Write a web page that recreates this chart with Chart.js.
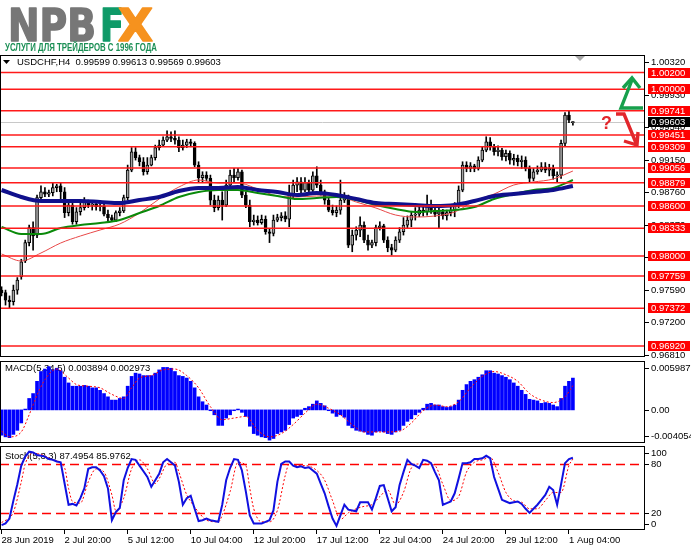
<!DOCTYPE html>
<html>
<head>
<meta charset="utf-8">
<script src="https://cdn.jsdelivr.net/npm/chart.js@4.4.1/dist/chart.umd.min.js"></script>
<style>
  body { margin: 0; background: #fff; width: 691px; height: 549px; overflow: hidden; position: relative; }
  canvas { position: absolute; left: 0; top: 0; }
</style>
</head>
<body>
<canvas id="main" width="691" height="549"></canvas>
<canvas id="macd" width="691" height="549"></canvas>
<canvas id="stoch" width="691" height="549"></canvas>
<script>
// ── USDCHF H4 with MAs, MACD and Stochastic ─────────────────────────────────
const FONT = 'Liberation Sans';

const open = [
  .9759,.9756,.9747,.9745,.9759,.9775,.9794,.9816,.9834,.9825,
  .9870,.9877,.9874,.9876,.9882,.9884,.9877,.9852,.9861,.9841,
  .9853,.9858,.9865,.9861,.9862,.9859,.9860,.9850,.9846,.9843,
  .9852,.9854,.9870,.9903,.9925,.9918,.9913,.9901,.9909,.9918,
  .9930,.9933,.9939,.9943,.9941,.9939,.9930,.9933,.9937,.9935,
  .9909,.9894,.9897,.9893,.9867,.9858,.9867,.9861,.9885,.9897,
  .9894,.9901,.9873,.9861,.9841,.9843,.9840,.9844,.9829,.9827,
  .9843,.9846,.9848,.9844,.9873,.9885,.9889,.9879,.9888,.9879,
  .9896,.9885,.9877,.9867,.9855,.9852,.9855,.9867,.9872,.9813,
  .9825,.9831,.9837,.9819,.9813,.9816,.9834,.9836,.9819,.9810,
  .9807,.9819,.9829,.9837,.9843,.9849,.9850,.9855,.9853,.9861,
  .9855,.9850,.9853,.9848,.9852,.9855,.9860,.9879,.9909,.9905,
  .9908,.9905,.9915,.9927,.9937,.9931,.9925,.9927,.9919,.9923,
  .9915,.9917,.9913,.9915,.9905,.9893,.9901,.9903,.9907,.9903,
  .9905,.9896,.9897,.9935,.9969,.99599
];
const high = [
  .9763,.9759,.9752,.9765,.9774,.9796,.9819,.9837,.9841,.9873,
  .9884,.9882,.9879,.9888,.9886,.9888,.9882,.9865,.9864,.9858,
  .9864,.9870,.9867,.9864,.9864,.9864,.9864,.9855,.9849,.9854,
  .9858,.9873,.9909,.9930,.9930,.9921,.9918,.9918,.9921,.9933,
  .9939,.9943,.9950,.9949,.9950,.9943,.9939,.9940,.9940,.9937,
  .9913,.9901,.9901,.9897,.9873,.9872,.9877,.9891,.9903,.9905,
  .9905,.9903,.9877,.9867,.9849,.9848,.9849,.9848,.9833,.9849,
  .9850,.9852,.9853,.9885,.9891,.9894,.9894,.9894,.9891,.9901,
  .9907,.9891,.9879,.9870,.9861,.9860,.9891,.9876,.9873,.9831,
  .9835,.9847,.9841,.9825,.9819,.9837,.9841,.9838,.9823,.9814,
  .9823,.9834,.9846,.9848,.9853,.9858,.9860,.9861,.9873,.9867,
  .9858,.9858,.9856,.9855,.9859,.9864,.9884,.9913,.9913,.9912,
  .9910,.9919,.9931,.9943,.9942,.9934,.9932,.9929,.9927,.9926,
  .9922,.9921,.9920,.9919,.9908,.9905,.9908,.9912,.9912,.9910,
  .9909,.9901,.9939,.9972,.99741,.99613
];
const low = [
  .9752,.9741,.97372,.9741,.9754,.9772,.9792,.9812,.9807,.9822,
  .9867,.9871,.9871,.9872,.9877,.9867,.9846,.9848,.9838,.9838,
  .9849,.9855,.9858,.9855,.9855,.9854,.9848,.9842,.9841,.9841,
  .9848,.9852,.9867,.9901,.9915,.9908,.9897,.9898,.9908,.9915,
  .9927,.9931,.9937,.9937,.9934,.9925,.9927,.9930,.9931,.9907,
  .9889,.9889,.9890,.9861,.9853,.9855,.9843,.9859,.9882,.9889,
  .9891,.9870,.9858,.9835,.9837,.9837,.9838,.9826,.9816,.9824,
  .9841,.9842,.9841,.9835,.9870,.9877,.9876,.9877,.9876,.9877,
  .9882,.9873,.9862,.9853,.9849,.9847,.9850,.9864,.9810,.9805,
  .9819,.9823,.9816,.9807,.9810,.9812,.9831,.9816,.9805,.9801,
  .9805,.9816,.9825,.9834,.9835,.9843,.9847,.9848,.9849,.9851,
  .9847,.9834,.9844,.9843,.9848,.9847,.9858,.9877,.9901,.9901,
  .9901,.9903,.9913,.9925,.9927,.9921,.9920,.9915,.9914,.9910,
  .9909,.9908,.9905,.9902,.9889,.9890,.9898,.9901,.9900,.9896,
  .9892,.98879,.9893,.9931,.9960,.99569
];
const close = [
  .9756,.9747,.9745,.9759,.9771,.9793,.9816,.9834,.9824,.9870,
  .9877,.9874,.9876,.9882,.9884,.9877,.9852,.9861,.9841,.9853,
  .9858,.9865,.9861,.9862,.9859,.9860,.9850,.9846,.9843,.9852,
  .9854,.9870,.9903,.9925,.9918,.9913,.9901,.9909,.9918,.9930,
  .9933,.9939,.9943,.9941,.9939,.9930,.9933,.9937,.9935,.9909,
  .9894,.9897,.9893,.9867,.9858,.9867,.9861,.9885,.9897,.9894,
  .9901,.9873,.9861,.9841,.9843,.9840,.9844,.9829,.9827,.9843,
  .9846,.9848,.9844,.9873,.9885,.9889,.9879,.9888,.9879,.9896,
  .9885,.9877,.9867,.9855,.9852,.9855,.9867,.9872,.9813,.9825,
  .9831,.9837,.9819,.9813,.9816,.9834,.9836,.9819,.9810,.9807,
  .9819,.9829,.9837,.9843,.9849,.9850,.9855,.9853,.9861,.9855,
  .9850,.9853,.9848,.9852,.9855,.9860,.9879,.9909,.9905,.9908,
  .9905,.9915,.9927,.9937,.9931,.9925,.9927,.9919,.9923,.9915,
  .9917,.9913,.9915,.9905,.9893,.9901,.9903,.9907,.9903,.9905,
  .9896,.9897,.9935,.9969,.9963,.99603
];

// moving averages, read every 5 bars
const maIdx   = [0,5,10,15,20,25,30,35,40,45,50,55,60,65,70,75,80,85,90,95,100,105,110,115,120,125,130,135,140,145];
const maRed   = [.98023,.97939,.98035,.98155,.98239,.98311,.98383,.98515,.98683,.98827,.98911,.98875,.98875,.98803,.98719,.98707,.98719,.98719,.98647,.98575,.98491,.98467,.98479,.98527,.98659,.98743,.98851,.98887,.98923,.99019];
const maGreen = [.98347,.98263,.98263,.98335,.98371,.98395,.98431,.98515,.98599,.98707,.98767,.98791,.98791,.98755,.98719,.98683,.98695,.98707,.98671,.98611,.98563,.98527,.98539,.98551,.98587,.98683,.98743,.98791,.98815,.98911];
const maBlue  = [.98791,.98707,.98659,.98659,.98659,.98647,.98635,.98671,.98707,.98779,.98815,.98815,.98827,.98791,.98767,.98731,.98755,.98731,.98683,.98635,.98623,.98611,.98599,.98611,.98659,.98719,.98743,.98767,.98791,.98839];

const levels     = [1.00200, 1.00000, 0.99741, 0.99451, 0.99309, 0.99056, 0.98879, 0.98600, 0.98333, 0.98000, 0.97759, 0.97372, 0.96920];
const lastPrice  = 0.99603;
const priceTicks = [1.00320, 0.99930, 0.99540, 0.99150, 0.98760, 0.98370, 0.97980, 0.97590, 0.97200, 0.96810];

const macdHist = [
  -0.0031,-0.0033,-0.0034,-0.0030,-0.0025,-0.0016,0.0001,0.0014,0.0020,0.0035,
  0.0047,0.0050,0.0053,0.0049,0.0051,0.0048,0.0040,0.0033,0.0029,0.0029,
  0.0029,0.0030,0.0029,0.0027,0.0027,0.0024,0.0020,0.0016,0.0012,0.0012,
  0.0014,0.0016,0.0029,0.0041,0.0045,0.0044,0.0042,0.0042,0.0042,0.0045,
  0.0049,0.0052,0.0052,0.0051,0.0047,0.0042,0.0041,0.0039,0.0035,0.0027,
  0.0016,0.0010,0.0006,-0.0001,-0.0006,-0.0019,-0.0019,-0.0010,-0.0006,-0.0001,
  0.0001,-0.0003,-0.0008,-0.0020,-0.0029,-0.0031,-0.0033,-0.0034,-0.0037,-0.0035,
  -0.0029,-0.0027,-0.0025,-0.0018,-0.0010,-0.0008,-0.0006,0.0002,0.0004,0.0007,
  0.0011,0.0008,0.0005,-0.0001,-0.0004,-0.0008,-0.0006,-0.0009,-0.0019,-0.0022,
  -0.0025,-0.0026,-0.0027,-0.0030,-0.0031,-0.0027,-0.0026,-0.0027,-0.0029,-0.0030,
  -0.0027,-0.0025,-0.0019,-0.0014,-0.0011,-0.0006,-0.0003,0.0002,0.0007,0.0008,
  0.0006,0.0006,0.0004,0.0003,0.0004,0.0006,0.0012,0.0024,0.0031,0.0035,
  0.0037,0.0040,0.0043,0.0048,0.0048,0.0045,0.0044,0.0042,0.0040,0.0037,
  0.0033,0.0029,0.0024,0.0019,0.0013,0.0012,0.0011,0.0008,0.0009,0.0008,
  0.0006,0.0004,0.0014,0.0029,0.0035,0.003894
];
const macdSigIdx = [0,2,5,7,9,11,14,17,19,22,25,28,31,33,35,38,41,44,47,50,53,56,59,62,65,68,71,74,77,80,83,86,89,92,95,98,101,104,107,110,113,116,119,122,125,128,131,134,137,140,143,145];
const macdSignal = [-0.0026,-0.0033,-0.0027,-0.0006,0.0018,0.0037,0.0050,0.0039,0.0031,0.0029,0.0027,0.0019,0.0014,0.0027,0.0039,0.0042,0.0049,0.0050,0.0042,0.0027,0.0004,-0.0012,-0.0010,-0.0008,-0.0025,-0.0033,-0.0029,-0.0018,-0.0004,0.0007,0.0002,-0.0006,-0.0018,-0.0027,-0.0027,-0.0027,-0.0026,-0.0016,-0.0001,0.0006,0.0004,0.0010,0.0027,0.0041,0.0047,0.0043,0.0035,0.0020,0.0012,0.0009,0.0016,0.002973];
const macdAxis = [0.005987, 0, -0.004054];
const macdAxisText = ['0.005987', '0.00', '-0.004054'];

const stochMain = [
  5,7,13,35,55,78,89,95,94,91,
  90,89,86,85,83,82,56,30,31,29,
  38,50,74,76,76,72,65,50,11,21,
  26,60,75,86,85,78,71,64,52,60,
  68,82,86,82,78,58,30,38,41,25,
  10,11,13,11,10,9,30,60,75,86,
  85,72,46,17,7,7,7,9,11,23,
  58,80,83,83,78,76,77,75,76,72,
  68,56,44,28,13,4,17,30,24,23,
  22,33,33,33,24,38,53,54,38,22,
  27,54,70,85,80,78,75,85,84,81,
  70,60,30,32,34,44,62,81,81,82,
  86,86,87,90,87,64,50,36,34,32,
  33,34,31,25,20,25,30,36,42,52,
  48,30,55,81,86,87.4954
];
const stochSigIdx = [0,3,5,6,8,11,13,16,17,18,20,22,24,26,28,29,31,33,35,37,39,40,42,44,45,47,48,50,52,55,56,58,60,62,63,64,66,68,70,72,73,75,77,80,82,84,86,88,90,92,94,96,98,100,102,104,106,108,110,112,114,116,118,120,122,124,126,128,130,132,134,136,138,140,142,144,145];
const stochSignal = [8,21,58,80,93,90,85,75,50,34,32,58,74,70,42,23,38,74,85,74,56,62,80,82,70,42,34,21,11,9,17,46,82,78,50,25,9,9,23,66,80,78,78,72,60,35,12,20,25,28,30,40,48,30,45,75,80,80,78,55,35,40,70,82,85,88,70,45,35,33,25,25,35,45,45,78,85.9762];
const stochLevels = [80, 20];
const stochAxis = [100, 80, 20, 0];

const xTickIdx    = [0,16,32,48,64,80,96,112,128,144];
const xTickLabels = ['28 Jun 2019','2 Jul 20:00','5 Jul 12:00','10 Jul 04:00','12 Jul 20:00','17 Jul 12:00','22 Jul 04:00','24 Jul 20:00','29 Jul 12:00','1 Aug 04:00'];

const X_MIN = -0.4, X_MAX = 163.3;
const AXIS_W = 46;

Chart.defaults.font.family = FONT;
Chart.defaults.font.size = 9.5;
Chart.defaults.color = '#000';
Chart.defaults.animation = false;
Chart.defaults.events = [];
Chart.defaults.plugins.legend.display = false;
Chart.defaults.plugins.tooltip.enabled = false;

const pts = (xs, ys) => xs.map((x, i) => ({ x, y: ys[i] }));
const idx = close.map((_, i) => i);

// frame round every plot area
const frame = {
  id: 'frame',
  afterDraw(chart) {
    const { ctx, chartArea: a } = chart;
    ctx.save();
    ctx.strokeStyle = '#000'; ctx.lineWidth = 1;
    ctx.strokeRect(a.left + 0.5, a.top + 0.5, a.right - a.left - 1, a.bottom - a.top - 1);
    ctx.restore();
  }
};

function scaledText(ctx, text, x, y, w, stroke) {
  const m = ctx.measureText(text).width;
  ctx.save(); ctx.translate(x, y); ctx.scale(w / m, 1);
  ctx.fillText(text, 0, 0);
  if (stroke) { ctx.strokeStyle = ctx.fillStyle; ctx.lineWidth = stroke; ctx.lineJoin = 'round'; ctx.strokeText(text, 0, 0); }
  ctx.restore();
}

function axisLabel(ctx, text, y, bg, fg) {
  if (bg) { ctx.fillStyle = bg; ctx.fillRect(648, Math.round(y) - 5, 42, 10); }
  ctx.fillStyle = fg || '#000';
  ctx.textBaseline = 'middle'; ctx.textAlign = 'left';
  ctx.fillText(text, 651, Math.round(y) + 0.5);
}

const mainDeco = {
  id: 'mainDeco',
  beforeDatasetsDraw(chart) {
    const { ctx, chartArea: a, scales: { y } } = chart;
    const py = Math.round(y.getPixelForValue(lastPrice)) + 0.5;
    ctx.save();
    ctx.strokeStyle = '#c8c8c8'; ctx.lineWidth = 1;
    ctx.beginPath(); ctx.moveTo(a.left, py); ctx.lineTo(a.right, py); ctx.stroke();
    ctx.restore();
  },
  afterDatasetsDraw(chart) {
    const { ctx, chartArea: a, scales: { y } } = chart;
    ctx.save();
    ctx.strokeStyle = '#ff1a1a'; ctx.lineWidth = 1.5;
    levels.forEach(lv => {
      const py = y.getPixelForValue(lv);
      ctx.beginPath(); ctx.moveTo(a.left, py); ctx.lineTo(a.right, py); ctx.stroke();
    });
    ctx.restore();
  },
  afterDraw(chart) {
    const { ctx, chartArea: a, scales: { y } } = chart;
    ctx.save();
    ctx.font = `9.5px "${FONT}"`;
    levels.forEach(lv => axisLabel(ctx, lv.toFixed(5), y.getPixelForValue(lv), '#ff0000', '#fff'));
    axisLabel(ctx, lastPrice.toFixed(5), y.getPixelForValue(lastPrice), '#000', '#fff');

    // header
    ctx.fillStyle = '#000';
    ctx.beginPath(); ctx.moveTo(3, 60); ctx.lineTo(10, 60); ctx.lineTo(6.5, 64); ctx.closePath(); ctx.fill();
    ctx.textBaseline = 'middle';
    ctx.fillText('USDCHF,H4  0.99599 0.99613 0.99569 0.99603', 17, 62.5);

    // chart shift marker
    ctx.fillStyle = '#a8a8a8';
    ctx.beginPath(); ctx.moveTo(575, a.top + 1); ctx.lineTo(585, a.top + 1); ctx.lineTo(580, a.top + 6); ctx.closePath(); ctx.fill();

    // arrows
    ctx.lineWidth = 3.4; ctx.lineJoin = 'miter'; ctx.lineCap = 'butt';
    ctx.strokeStyle = '#17a04c';
    ctx.beginPath(); ctx.moveTo(643, 108); ctx.lineTo(621, 108); ctx.lineTo(632, 80); ctx.stroke();
    ctx.beginPath(); ctx.moveTo(623, 88); ctx.lineTo(632, 78); ctx.lineTo(640, 88); ctx.stroke();
    ctx.strokeStyle = '#e2262b';
    ctx.beginPath(); ctx.moveTo(616, 114); ctx.lineTo(624, 114); ctx.lineTo(636, 143); ctx.stroke();
    ctx.beginPath(); ctx.moveTo(624, 141); ctx.lineTo(637, 145); ctx.lineTo(638, 132); ctx.stroke();
    ctx.fillStyle = '#e2262b';
    ctx.font = `bold 18px "${FONT}"`;
    ctx.textBaseline = 'alphabetic';
    ctx.fillText('?', 601, 129);

    // logo
    ctx.font = `bold 44px "DejaVu Sans"`;
    ctx.fillStyle = '#777777'; scaledText(ctx, 'NPB', 8, 41, 88, 1.5);
    ctx.fillStyle = '#0f9a68'; scaledText(ctx, 'F', 100, 41, 24, 1.5);
    ctx.fillStyle = '#f6921e'; scaledText(ctx, 'X', 118, 41, 35, 1.5);
    ctx.font = `bold 10px "${FONT}"`;
    ctx.fillStyle = '#1b8f55'; scaledText(ctx, 'УСЛУГИ ДЛЯ ТРЕЙДЕРОВ С 1996 ГОДА', 5, 51, 152);
    ctx.restore();
  }
};

new Chart(document.getElementById('main'), {
  type: 'bar',
  data: {
    datasets: [
      { type: 'line', data: pts(maIdx, maBlue), borderColor: '#10108c', borderWidth: 4, pointRadius: 0, cubicInterpolationMode: 'monotone', order: 0 },
      { type: 'line', data: pts(maIdx, maGreen), borderColor: '#0a8a0a', borderWidth: 2, pointRadius: 0, cubicInterpolationMode: 'monotone', order: 1 },
      { type: 'line', data: pts(maIdx, maRed), borderColor: '#e84848', borderWidth: 1, pointRadius: 0, cubicInterpolationMode: 'monotone', order: 2 },
      {
        data: idx.map(i => ({ x: i, y: [open[i], close[i]] })),
        backgroundColor: idx.map(i => close[i] >= open[i] ? '#a4a4a4' : '#000'),
        borderColor: '#000', borderWidth: 1, borderSkipped: false,
        barThickness: 3, grouped: false, minBarLength: 1, order: 5
      },
      {
        data: idx.map(i => ({ x: i, y: [low[i], high[i]] })),
        backgroundColor: '#000', barThickness: 1, grouped: false, order: 6
      }
    ]
  },
  options: {
    responsive: false,
    layout: { padding: { top: 55, bottom: 192, left: 0, right: 0 } },
    scales: {
      x: { type: 'linear', min: X_MIN, max: X_MAX, offset: false, display: false },
      y: {
        position: 'right', min: 0.96787, max: 1.00411,
        afterFit: s => { s.width = AXIS_W; },
        afterBuildTicks: s => { s.ticks = priceTicks.map(v => ({ value: v })); },
        ticks: { callback: v => v.toFixed(5), padding: 2, font: { size: 9.5 } },
        grid: { drawOnChartArea: false, tickLength: 4, color: '#000' },
        border: { display: false }
      }
    }
  },
  plugins: [mainDeco, frame]
});

const macdDeco = {
  id: 'macdDeco',
  beforeDatasetsDraw(chart) {
    const { ctx } = chart;
    ctx.save();
    ctx.font = `9.5px "${FONT}"`; ctx.fillStyle = '#000'; ctx.textBaseline = 'middle';
    ctx.fillText('MACD(5,34,5) 0.003894 0.002973', 5, 368);
    ctx.restore();
  },
  afterDraw(chart) {
    const { ctx, chartArea: a, scales: { y } } = chart;
    ctx.save();
    ctx.font = `9.5px "${FONT}"`; ctx.strokeStyle = '#000'; ctx.lineWidth = 1;
    macdAxis.forEach((v, k) => {
      const py = Math.min(Math.max(y.getPixelForValue(v), a.top + 7), a.bottom - 7);
      ctx.beginPath(); ctx.moveTo(a.right, Math.round(py) + 0.5); ctx.lineTo(a.right + 4, Math.round(py) + 0.5); ctx.stroke();
      axisLabel(ctx, macdAxisText[k], py);
    });
    ctx.restore();
  }
};

new Chart(document.getElementById('macd'), {
  type: 'bar',
  data: {
    datasets: [
      { type: 'line', data: pts(macdSigIdx, macdSignal), borderColor: '#ff0000', borderWidth: 1, borderDash: [2, 2], pointRadius: 0, cubicInterpolationMode: 'monotone', order: 0 },
      { data: pts(idx, macdHist), backgroundColor: '#0000ff', barThickness: 3, grouped: false, order: 1 }
    ]
  },
  options: {
    responsive: false,
    layout: { padding: { top: 361, bottom: 106, left: 0, right: 0 } },
    scales: {
      x: { type: 'linear', min: X_MIN, max: X_MAX, offset: false, display: false },
      y: {
        position: 'right', min: -0.004054, max: 0.005987,
        afterFit: s => { s.width = AXIS_W; },
        ticks: { display: false }, grid: { display: false }, border: { display: false }
      }
    }
  },
  plugins: [macdDeco, frame]
});

const stochDeco = {
  id: 'stochDeco',
  beforeDatasetsDraw(chart) {
    const { ctx, chartArea: a, scales: { y } } = chart;
    ctx.save();
    ctx.strokeStyle = '#ff0000'; ctx.lineWidth = 1.3; ctx.setLineDash([9, 5]);
    stochLevels.forEach(v => {
      const py = Math.round(y.getPixelForValue(v)) + 0.5;
      ctx.beginPath(); ctx.moveTo(a.left, py); ctx.lineTo(a.right, py); ctx.stroke();
    });
    ctx.setLineDash([]);
    ctx.font = `9.5px "${FONT}"`; ctx.fillStyle = '#000'; ctx.textBaseline = 'middle';
    ctx.fillText('Stoch(5,3,3) 87.4954 85.9762', 5, 456);
    ctx.restore();
  },
  afterDraw(chart) {
    const { ctx, chartArea: a, scales: { y } } = chart;
    ctx.save();
    ctx.font = `9.5px "${FONT}"`; ctx.strokeStyle = '#000'; ctx.lineWidth = 1;
    stochAxis.forEach(v => {
      const py = Math.min(Math.max(y.getPixelForValue(v), a.top + 7), a.bottom - 6);
      ctx.beginPath(); ctx.moveTo(a.right, Math.round(py) + 0.5); ctx.lineTo(a.right + 4, Math.round(py) + 0.5); ctx.stroke();
      axisLabel(ctx, String(v), py);
    });
    ctx.restore();
  }
};

new Chart(document.getElementById('stoch'), {
  type: 'line',
  data: {
    datasets: [
      { data: pts(idx, stochMain), borderColor: '#1010e0', borderWidth: 2, pointRadius: 0, tension: 0, order: 0 },
      { data: pts(stochSigIdx, stochSignal), borderColor: '#ff0000', borderWidth: 1, borderDash: [2, 2], pointRadius: 0, cubicInterpolationMode: 'monotone', order: 1 }
    ]
  },
  options: {
    responsive: false,
    layout: { padding: { top: 446, bottom: 0, left: 0, right: 0 } },
    scales: {
      x: {
        type: 'linear', min: X_MIN, max: X_MAX, offset: false,
        afterFit: s => { s.height = 19; },
        afterBuildTicks: s => { s.ticks = xTickIdx.map(v => ({ value: v })); },
        ticks: {
          autoSkip: false, maxRotation: 0, align: 'start', padding: 1,
          callback: v => xTickLabels[xTickIdx.indexOf(v)]
        },
        grid: { drawOnChartArea: false, tickLength: 4, color: '#000' },
        border: { display: false }
      },
      y: {
        position: 'right', min: -1, max: 102,
        afterFit: s => { s.width = AXIS_W; },
        ticks: { display: false }, grid: { display: false }, border: { display: false }
      }
    }
  },
  plugins: [stochDeco, frame]
});
</script>
</body>
</html>
